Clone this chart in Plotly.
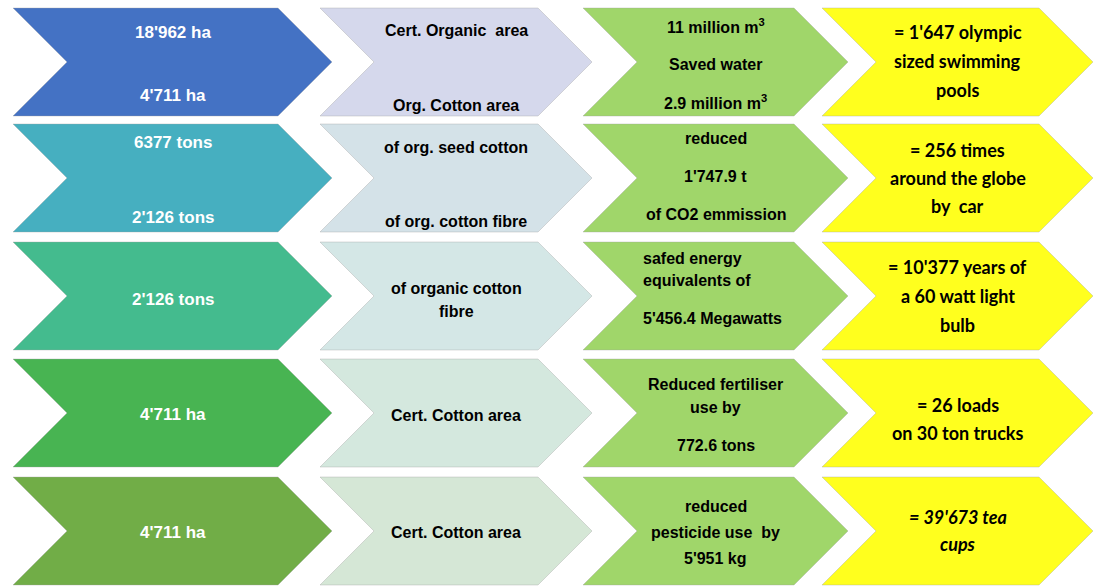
import plotly.graph_objects as go

# ---------------- data ----------------
stage_values = [["18'962 ha", "4'711 ha"],
                ["6377 tons", "2'126 tons"],
                ["2'126 tons"],
                ["4'711 ha"],
                ["4'711 ha"]]
stage_subjects = [["Cert. Organic  area", "Org. Cotton area"],
                  ["of org. seed cotton", "of org. cotton fibre"],
                  ["of organic cotton", "fibre"],
                  ["Cert. Cotton area"],
                  ["Cert. Cotton area"]]
impacts = [["11 million m<sup>3</sup>", "Saved water", "2.9 million m<sup>3</sup>"],
           ["reduced", "1'747.9 t", "of CO2 emmission"],
           ["safed energy", "equivalents of", "5'456.4 Megawatts"],
           ["Reduced fertiliser", "use by", "772.6 tons"],
           ["reduced", "pesticide use  by", "5'951 kg"]]
equivalents = [["= 1'647 olympic", "sized swimming", "pools"],
               ["= 256 times", "around the globe", "by  car"],
               ["= 10'377 years of", "a 60 watt light", "bulb"],
               ["= 26 loads", "on 30 ton trucks"],
               ["= 39'673 tea", "cups"]]

# ---------------- styling / layout ----------------
W, H = 1097, 588
row_tops = [8, 124, 242, 359, 477]
row_h = 108
col_left = [13, 320, 583, 822]
col_tip = [332, 592, 848, 1093]
depth = 54

col1_colors = ["#4472C4", "#46AFC0", "#44BB8E", "#48B452", "#71AD47"]
col2_colors = ["#D5D8EC", "#D4E2E8", "#D4E7E6", "#D4E8DE", "#D5E7D6"]
col3_color = "#A0D66A"
col4_color = "#FFFF1E"

# vertical centres of each text line, relative to row top
line_y = {
    0: [[24, 87], [22, 97], [18, 56, 94], [24, 53, 82]],
    1: [[18, 93], [23, 97], [14, 52, 90], [26, 54, 82]],
    2: [[57], [46, 69], [16, 38, 76], [25, 54, 83]],
    3: [[55], [56], [25, 48, 86], [46, 74]],
    4: [[55], [55], [29, 55, 81], [40, 67]],
}

fig = go.Figure()


def chevron(c, r, color):
    x0 = col_left[c]
    x1 = col_tip[c]
    t = row_tops[r]
    b = t + row_h
    m = (t + b) / 2
    xs = [x0, x1 - depth, x1, x1 - depth, x0, x0 + depth, x0]
    ys = [t, t, m, b, b, m, t]
    fig.add_trace(go.Scatter(x=xs, y=ys, fill="toself", fillcolor=color,
                             mode="lines", line=dict(width=0.6, color="rgba(160,160,160,0.6)"),
                             hoverinfo="skip", showlegend=False))


for r in range(5):
    chevron(0, r, col1_colors[r])
    chevron(1, r, col2_colors[r])
    chevron(2, r, col3_color)
    chevron(3, r, col4_color)

sans = "Liberation Sans, Arial, sans-serif"
cal = "Lato, Carlito, Calibri, sans-serif"
columns = [stage_values, stage_subjects, impacts, equivalents]
for c in range(4):
    cx = (col_left[c] + depth + col_tip[c] - depth) / 2
    for r in range(5):
        lines = columns[c][r]
        for i, txt in enumerate(lines):
            y = row_tops[r] + line_y[r][c][i]
            if c == 0:
                font = dict(family=sans, size=17, color="white")
                t = "<b>%s</b>" % txt
            elif c in (1, 2):
                font = dict(family=sans, size=16, color="black")
                t = "<b>%s</b>" % txt
            else:
                font = dict(family=cal, size=18, color="black")
                t = "<b><i>%s</i></b>" % txt if r == 4 else "<b>%s</b>" % txt
            xa = "center"
            x = cx
            if c == 2 and r == 2:
                xa = "left"
                x = col_left[c] + depth + 4
            fig.add_annotation(x=x, y=y, text=t, showarrow=False, xanchor=xa,
                               yanchor="middle", font=font, xref="x", yref="y")

fig.update_layout(width=W, height=H, margin=dict(l=0, r=0, t=0, b=0),
                  paper_bgcolor="white", plot_bgcolor="white",
                  xaxis=dict(range=[0, W], visible=False, fixedrange=True),
                  yaxis=dict(range=[H, 0], visible=False, fixedrange=True),
                  showlegend=False)
fig.write_html("out.html", config={"displayModeBar": False},
               post_script="document.body.style.margin='0';document.body.style.overflow='hidden';")
